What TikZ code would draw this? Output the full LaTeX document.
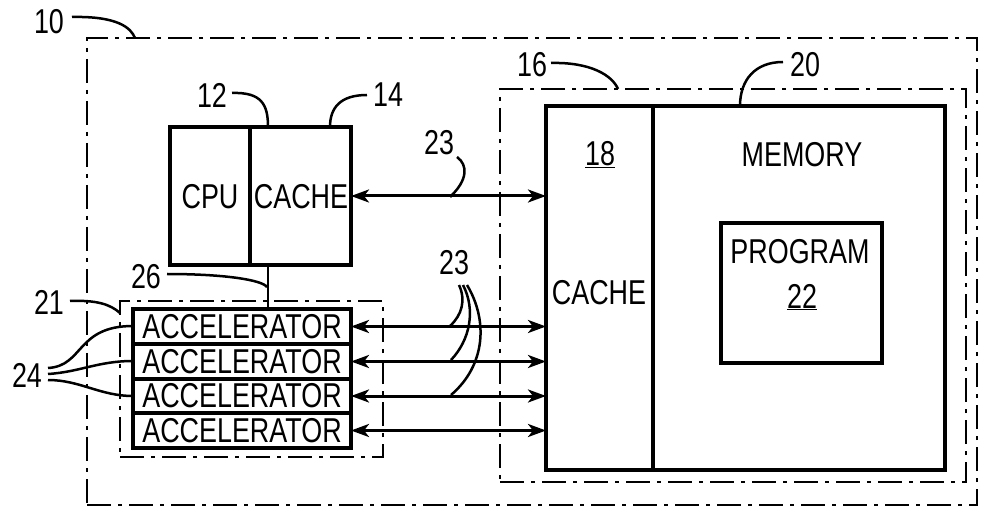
\documentclass[tikz,border=0pt]{standalone}
\usepackage{fontspec}
\setmainfont{Liberation Sans}[FakeStretch=0.78]
\usetikzlibrary{arrows.meta}
\tikzset{
  bx/.style={draw, line width=3.4pt, anchor=north west, inner sep=0pt, outer sep=0pt},
  dd/.style={draw, line width=2.8pt, dash pattern=on 24pt off 7pt on 4pt off 7pt, anchor=north west, inner sep=0pt, outer sep=0pt},
  lbl/.style={font=\fontsize{34.5}{38}\selectfont, inner sep=0pt},
  ld/.style={line width=2.5pt},
  arr/.style={line width=3pt, {Stealth[length=18pt,width=13pt,inset=5pt]}-{Stealth[length=18pt,width=13pt,inset=5pt]}}
}
\begin{document}
\begin{tikzpicture}[x=1pt,y=-1pt]
\useasboundingbox (0,0) rectangle (982,510);
% outer system box 10
\node[dd, minimum width=890pt, minimum height=467pt] (sys) at (87,38) {};
% memory subsystem 16
\node[dd, minimum width=466pt, minimum height=393pt] (sub) at (500,89) {};
% accelerator group 21
\node[dd, minimum width=263pt, minimum height=156pt] (grp) at (120,301) {};
% CPU and cache
\node[bx, minimum width=80pt, minimum height=138pt] (cpu) at (170,127) {};
\node[bx, minimum width=101pt, minimum height=138pt] (cacheA) at (250,127) {};
\node[lbl] (tcpu) at (210,197) {CPU};
\node[lbl] (tcacheA) at (301,197) {CACHE};
% accelerators
\node[bx, minimum width=218pt, minimum height=35pt] (acc1) at (133,309) {};
\node[bx, minimum width=218pt, minimum height=35pt] (acc2) at (133,344) {};
\node[bx, minimum width=218pt, minimum height=34pt] (acc3) at (133,379) {};
\node[bx, minimum width=218pt, minimum height=35pt] (acc4) at (133,413) {};
\node[lbl] at (acc1.center) {ACCELERATOR};
\node[lbl] at (acc2.center) {ACCELERATOR};
\node[lbl] at (acc3.center) {ACCELERATOR};
\node[lbl] at (acc4.center) {ACCELERATOR};
% cache 18 and memory 20
\node[bx, minimum width=107pt, minimum height=364pt] (cacheB) at (546,106) {};
\node[bx, minimum width=292pt, minimum height=364pt] (mem) at (653,106) {};
\node[bx, minimum width=161pt, minimum height=140pt] (prog) at (721,223) {};
\node[lbl] (t18) at (600,155) {\underline{18}};
\node[lbl] (tcacheB) at (599,293) {CACHE};
\node[lbl] (tmem) at (802,155) {MEMORY};
\node[lbl] (tprog) at (800,252) {PROGRAM};
\node[lbl] (t22) at (802,297) {\underline{22}};
% bus 26
\coordinate (b26) at (268,265);
\draw[line width=2.8pt] (b26) -- (b26 |- acc1.north);
% arrows 23
\draw[arr] (cacheA.east) -- (cacheA.east -| cacheB.west);
\draw[arr] (acc1.east) -- (acc1.east -| cacheB.west);
\draw[arr] (acc2.east) -- (acc2.east -| cacheB.west);
\draw[arr] (acc3.east) -- (acc3.east -| cacheB.west);
\draw[arr] (acc4.east) -- (acc4.east -| cacheB.west);
% reference labels
\node[lbl] (n10) at (49,22) {10};
\node[lbl] (n12) at (212,95) {12};
\node[lbl] (n14) at (388,95) {14};
\node[lbl] (n26) at (146,277) {26};
\node[lbl] (n21) at (49,302) {21};
\node[lbl] (n24) at (27,375) {24};
\node[lbl] (n23a) at (439,143) {23};
\node[lbl] (n23b) at (454,263) {23};
\node[lbl] (n16) at (532,65) {16};
\node[lbl] (n20) at (805,65) {20};
% leaders
\draw[ld] (72,17) .. controls (118,16) and (131,28) .. (135,38);
\draw[ld] (232,93) .. controls (262,92) and (268,105) .. (268,127);
\draw[ld] (367,95) .. controls (340,95) and (330,108) .. (330,127);
\draw[ld] (167,274) .. controls (225,274) and (262,280) .. (267,287);
\draw[ld] (70,301) .. controls (96,300) and (110,304) .. (120,313);
\draw[ld] (48,368) .. controls (84,366) and (76,326) .. (133,326);
\draw[ld] (48,374) .. controls (80,372) and (98,361) .. (133,361);
\draw[ld] (48,380) .. controls (80,380) and (100,396) .. (133,396);
\draw[ld] (457,157) .. controls (468,165) and (468,180) .. (450,197);
\draw[ld] (459,285) .. controls (466,300) and (462,315) .. (450,326);
\draw[ld] (463,285) .. controls (476,310) and (470,340) .. (451,360);
\draw[ld] (467,285) .. controls (488,320) and (486,365) .. (451,395);
\draw[ld] (551,63) .. controls (590,62) and (612,75) .. (618,89);
\draw[ld] (783,62) .. controls (755,62) and (740,80) .. (740,106);
\end{tikzpicture}
\end{document}
